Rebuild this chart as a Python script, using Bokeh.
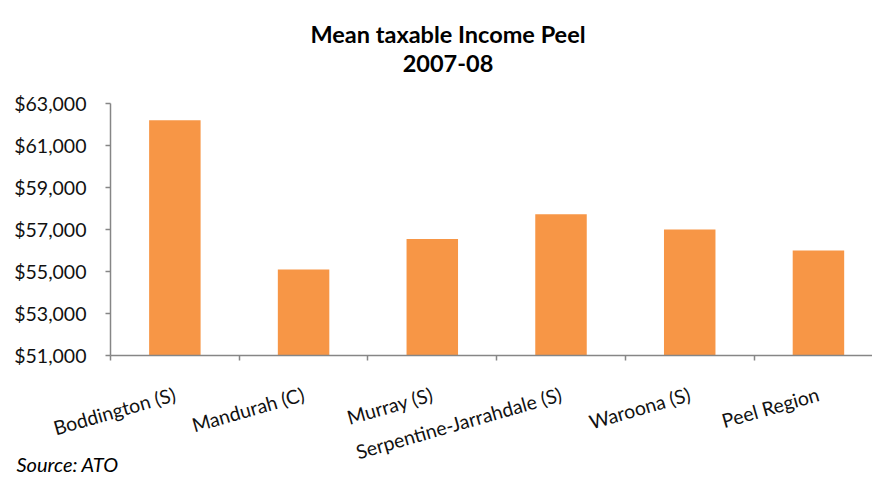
import math
import numpy as np
from bokeh.plotting import figure
from bokeh.models import (Range1d, FixedTicker, NumeralTickFormatter, Title, Label, ColumnDataSource)
from bokeh.embed import file_html
from bokeh.resources import INLINE

# ---- data ----
categories = ["Boddington (S)", "Mandurah (C)", "Murray (S)",
              "Serpentine-Jarrahdale (S)", "Waroona (S)", "Peel Region"]
income = [62200, 55100, 56550, 57730, 57000, 56000]
y_ticks = [51000, 53000, 55000, 57000, 59000, 61000, 63000]
title_line1 = "Mean taxable Income Peel"
title_line2 = "2007-08"
source_note = "Source: ATO"

FONT = "Lato"
BAR = "#F79646"
AXIS = "#868686"

W, H = 872, 477
FL, FT, FB = 110, 103, 355  # plot-area left / value-axis top / axis bottom (canvas px)
px_per_unit = (FB - FT) / (y_ticks[-1] - y_ticks[0])
y_end = y_ticks[-1] + FT / px_per_unit  # frame reaches the canvas top so titles can sit in it

p = figure(width=W, height=H, output_backend="svg", toolbar_location=None,
           x_range=Range1d(0, 5.92), y_range=Range1d(y_ticks[0], y_end),
           min_border_left=FL, min_border_right=0, min_border_top=0,
           min_border_bottom=H - FB, outline_line_color=None,
           background_fill_color="white", border_fill_color="white")

centers = list(np.arange(len(categories)) + 0.5)
src = ColumnDataSource(dict(x=centers, top=income, cat=categories))
p.vbar(x="x", top="top", bottom=y_ticks[0], width=0.4, source=src,
       fill_color=BAR, line_color=None)

p.xgrid.visible = False
p.ygrid.visible = False

# x axis
xa = p.xaxis[0]
xa.ticker = FixedTicker(ticks=centers, minor_ticks=list(range(len(categories) + 1)))
xa.major_label_overrides = {c: name for c, name in zip(centers, categories)}
xa.major_label_orientation = math.radians(16)
xa.major_tick_out = 0
xa.major_tick_in = 0
xa.minor_tick_out = 5
xa.minor_tick_in = 0
xa.minor_tick_line_color = AXIS
xa.minor_tick_line_width = 1.5
xa.axis_line_color = AXIS
xa.axis_line_width = 1.5
xa.major_label_text_font = FONT
xa.major_label_text_font_size = "19.5px"
xa.major_label_text_color = "#111111"
xa.major_label_standoff = 33

# y axis
ya = p.yaxis[0]
ya.ticker = FixedTicker(ticks=y_ticks)
ya.bounds = (y_ticks[0], y_ticks[-1])
ya.formatter = NumeralTickFormatter(format="$0,0")
ya.major_tick_out = 5
ya.major_tick_in = 0
ya.minor_tick_out = 0
ya.minor_tick_in = 0
ya.major_tick_line_color = AXIS
ya.major_tick_line_width = 1.5
ya.axis_line_color = AXIS
ya.axis_line_width = 1.5
ya.major_label_text_font = FONT
ya.major_label_text_font_size = "19.5px"
ya.major_label_text_color = "#111111"
ya.major_label_standoff = 19

# titles as labels inside the (extended) frame: x from frame left, y up from frame bottom
def head(text, cx, baseline):
    return Label(x=cx - FL, y=FB - baseline, x_units="screen", y_units="screen", text=text,
                 text_align="center", text_baseline="alphabetic", text_font=FONT,
                 text_font_style="bold", text_font_size="23.5px", text_color="black")

p.add_layout(head(title_line1, 447.5, 33))
p.add_layout(head(title_line2, 447.5, 63))

# source note: top-aligned title below the axis, pulled up into the label band
p.add_layout(Title(text=source_note, align="left", vertical_align="top", offset=16 - FL,
                   standoff=-52, text_font=FONT, text_font_style="italic",
                   text_font_size="20px", text_color="black"), "below")

open("out.html", "w").write(file_html(p, INLINE))
